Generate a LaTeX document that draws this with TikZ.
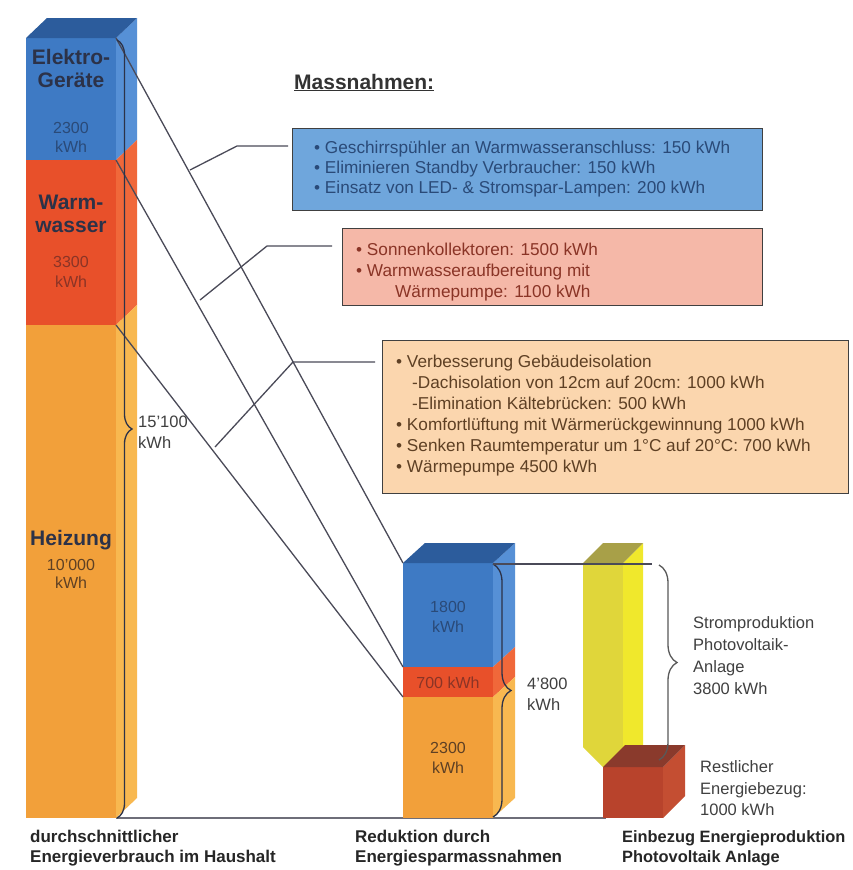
\documentclass[tikz,border=0pt]{standalone}
\usepackage{fontspec}
\setmainfont{Liberation Sans}
\usetikzlibrary{decorations.pathreplacing}
\definecolor{blueF}{HTML}{3E7AC4}
\definecolor{blueS}{HTML}{5690D6}
\definecolor{blueT}{HTML}{2C5C9C}
\definecolor{redF}{HTML}{E8502A}
\definecolor{redS}{HTML}{F0683A}
\definecolor{orangeF}{HTML}{F2A03A}
\definecolor{orangeS}{HTML}{F8B850}
\definecolor{yelF}{HTML}{E0D63A}
\definecolor{yelS}{HTML}{F0E82C}
\definecolor{yelT}{HTML}{A8A048}
\definecolor{drF}{HTML}{B8432C}
\definecolor{drS}{HTML}{C44E32}
\definecolor{drT}{HTML}{8A3A2C}
\definecolor{connC}{HTML}{4A4A58}
\definecolor{boxB}{HTML}{6FA6DC}
\definecolor{boxP}{HTML}{F5B8A8}
\definecolor{boxO}{HTML}{FBD6AE}
\definecolor{txtB}{HTML}{2A4A78}
\definecolor{txtP}{HTML}{8A3426}
\definecolor{txtO}{HTML}{5E4024}
\definecolor{lblDark}{HTML}{2C3248}
\tikzset{
  conn/.style={draw=connC, line width=1.3pt},
  baseln/.style={draw=connC!80, line width=1.6pt},
  bracestyle/.style={draw=#1, line width=1.3pt, decorate},
  boxstyle/.style={draw=black!75, line width=1.3pt, anchor=north west, inner sep=0pt},
  boxtxt/.style={font=\fontsize{17.2}{20}\selectfont, anchor=base west, inner sep=0pt},
  barbig/.style={font=\fontsize{21}{23}\selectfont\bfseries, text=lblDark, inner sep=0pt},
  barsmall/.style={font=\fontsize{16}{18}\selectfont, inner sep=0pt},
  sidetxt/.style={font=\fontsize{16.5}{18}\selectfont, text=black!75, anchor=base west, inner sep=0pt},
  bottxt/.style={font=\fontsize{17}{20}\selectfont\bfseries, text=black!85, anchor=base west, inner sep=0pt}
}
\begin{document}
\begin{tikzpicture}[x=1pt,y=-1pt]
\useasboundingbox[fill=white] (0,0) rectangle (853,870);

% baseline behind the bars
\coordinate (base0) at (116,818);
\coordinate (base1) at (606,818);
\draw[baseln] (base0) -- (base1);

% ---- left bar ----
\fill[blueF] (26,38) rectangle (116,160);
\fill[redF] (26,160) rectangle (116,325);
\fill[orangeF] (26,325) rectangle (116,818);
\fill[blueS] (116,38) -- (137,18) -- (137,140) -- (116,160) -- cycle;
\fill[redS] (116,160) -- (137,140) -- (137,305) -- (116,325) -- cycle;
\fill[orangeS] (116,325) -- (137,305) -- (137,798) -- (116,818) -- cycle;
\fill[blueT] (26,38) -- (47,18) -- (137,18) -- (116,38) -- cycle;

\node[barbig] (tE1) at (71,57) {Elektro-};
\node[barbig] (tE2) at (71,80) {Geräte};
\node[barsmall, text=txtB] (tE3) at (71,128) {2300};
\node[barsmall, text=txtB] (tE4) at (71,147) {kWh};
\node[barbig] (tW1) at (71,202) {Warm-};
\node[barbig] (tW2) at (71,227) {wasser};
\node[barsmall, text=txtP] (tW3) at (71,262) {3300};
\node[barsmall, text=txtP] (tW4) at (71,282) {kWh};
\node[barbig] (tH1) at (71,540) {Heizung};
\node[barsmall, text=txtO] (tH2) at (71,565) {10'000};
\node[barsmall, text=txtO] (tH3) at (71,583) {kWh};

% ---- middle bar ----
\fill[blueF] (403,563) rectangle (493,667);
\fill[redF] (403,667) rectangle (493,697);
\fill[orangeF] (403,697) rectangle (493,818);
\fill[blueS] (493,563) -- (515,543) -- (515,647) -- (493,667) -- cycle;
\fill[redS] (493,667) -- (515,647) -- (515,677) -- (493,697) -- cycle;
\fill[orangeS] (493,697) -- (515,677) -- (515,798) -- (493,818) -- cycle;
\fill[blueT] (403,563) -- (425,543) -- (515,543) -- (493,563) -- cycle;

\node[barsmall, text=txtB] (m1) at (448,607) {1800};
\node[barsmall, text=txtB] (m2) at (448,627) {kWh};
\node[barsmall, text=txtP] (m3) at (448,683) {700 kWh};
\node[barsmall, text=txtO] (m4) at (448,748) {2300};
\node[barsmall, text=txtO] (m5) at (448,768) {kWh};

% ---- yellow bar ----
\fill[yelF] (583,563) -- (623,563) -- (623,767) -- (603,767) -- (583,747) -- cycle;
\fill[yelS] (623,563) -- (643,543) -- (643,747) -- (623,767) -- cycle;
\fill[yelT] (583,563) -- (603,543) -- (643,543) -- (623,563) -- cycle;

% ---- dark red cube ----
\fill[drF] (603,767) rectangle (663,818);
\fill[drS] (663,767) -- (685,745) -- (685,796) -- (663,818) -- cycle;
\fill[drT] (603,767) -- (625,745) -- (685,745) -- (663,767) -- cycle;

% ---- connectors between bars ----
\coordinate (LA1) at (116,38);
\coordinate (LA2) at (116,160);
\coordinate (LA3) at (116,325);
\coordinate (MA1) at (403,563);
\coordinate (MA2) at (403,667);
\coordinate (MA3) at (403,697);
\draw[conn] (LA1) -- (MA1);
\draw[conn] (LA2) -- (MA2);
\draw[conn] (LA3) -- (MA3);

% ---- braces ----
\coordinate (LB1) at (117,40);
\coordinate (LB2) at (117,818);
\draw[bracestyle=lblDark, decoration={brace, amplitude=15pt}] (LB1) -- (LB2);
\coordinate (MB1) at (493,564);
\coordinate (MB2) at (493,817);
\draw[bracestyle=lblDark, decoration={brace, amplitude=18pt}] (MB1) -- (MB2);
\coordinate (MT2) at (652,564);
\draw[conn] (MB1) -- (MT2);
\coordinate (RB1) at (659,565);
\coordinate (RB2) at (659,760);
\draw[bracestyle=black!65, decoration={brace, amplitude=18pt}] (RB1) -- (RB2);

% ---- side labels ----
\node[sidetxt] (s1) at (138,427) {15'100};
\node[sidetxt] (s2) at (138,448) {kWh};
\node[sidetxt] (s3) at (527,689) {4'800};
\node[sidetxt] (s4) at (527,710) {kWh};
\node[sidetxt] (s5) at (693,628) {Stromproduktion};
\node[sidetxt] (s6) at (693,650) {Photovoltaik-};
\node[sidetxt] (s7) at (693,672) {Anlage};
\node[sidetxt] (s8) at (693,694) {3800 kWh};
\node[sidetxt] (s9) at (700,772) {Restlicher};
\node[sidetxt] (s10) at (700,794) {Energiebezug:};
\node[sidetxt] (s11) at (700,815) {1000 kWh};

% ---- Massnahmen ----
\node[font=\fontsize{21}{23}\selectfont\bfseries, text=black!80, anchor=base west, inner sep=0pt] (mass) at (294,89) {\underline{Massnahmen:}};

% ---- boxes ----
\node[boxstyle, fill=boxB, minimum width=470pt, minimum height=82pt] (bluebox) at (292,128) {};
\node[boxtxt, text=txtB] (b1) at (314,153) {\textbullet\ Geschirrspühler an Warmwasseranschluss: 150 kWh};
\node[boxtxt, text=txtB] (b2) at (314,173) {\textbullet\ Eliminieren Standby Verbraucher: 150 kWh};
\node[boxtxt, text=txtB] (b3) at (314,193) {\textbullet\ Einsatz von LED- \& Stromspar-Lampen: 200 kWh};

\node[boxstyle, fill=boxP, minimum width=420pt, minimum height=77pt] (pinkbox) at (342,228) {};
\node[boxtxt, text=txtP] (p1) at (356,255) {\textbullet\ Sonnenkollektoren: 1500 kWh};
\node[boxtxt, text=txtP] (p2) at (356,276) {\textbullet\ Warmwasseraufbereitung mit};
\node[boxtxt, text=txtP] (p3) at (395,297) {Wärmepumpe: 1100 kWh};

\node[boxstyle, fill=boxO, minimum width=466pt, minimum height=153pt] (orbox) at (382,340) {};
\node[boxtxt, text=txtO] (o1) at (396,367) {\textbullet\ Verbesserung Gebäudeisolation};
\node[boxtxt, text=txtO] (o2) at (412,388) {-Dachisolation von 12cm auf 20cm: 1000 kWh};
\node[boxtxt, text=txtO] (o3) at (412,409) {-Elimination Kältebrücken: 500 kWh};
\node[boxtxt, text=txtO] (o4) at (396,430) {\textbullet\ Komfortlüftung mit Wärmerückgewinnung 1000 kWh};
\node[boxtxt, text=txtO] (o5) at (396,451) {\textbullet\ Senken Raumtemperatur um 1°C auf 20°C: 700 kWh};
\node[boxtxt, text=txtO] (o6) at (396,472) {\textbullet\ Wärmepumpe 4500 kWh};

% ---- box connectors ----
\coordinate (cb0) at (190,170);
\coordinate (cb1) at (237,146);
\draw[conn] (cb0) -- (cb1) -- ([xshift=-4pt]cb1 -| bluebox.west);
\coordinate (cp0) at (200,300);
\coordinate (cp1) at (267,246);
\draw[conn] (cp0) -- (cp1) -- ([xshift=-10pt]cp1 -| pinkbox.west);
\coordinate (co0) at (215,447);
\coordinate (co1) at (293,362);
\draw[conn] (co0) -- (co1) -- ([xshift=-7pt]co1 -| orbox.west);

% ---- bottom labels ----
\node[bottxt] (l1) at (30,842) {durchschnittlicher};
\node[bottxt] (l2) at (30,862) {Energieverbrauch im Haushalt};
\node[bottxt] (l3) at (355,842) {Reduktion durch};
\node[bottxt] (l4) at (355,862) {Energiesparmassnahmen};
\node[bottxt, font=\fontsize{16.4}{20}\selectfont\bfseries] (l5) at (622,842) {Einbezug Energieproduktion};
\node[bottxt, font=\fontsize{16.4}{20}\selectfont\bfseries] (l6) at (622,862) {Photovoltaik Anlage};
\end{tikzpicture}
\end{document}
